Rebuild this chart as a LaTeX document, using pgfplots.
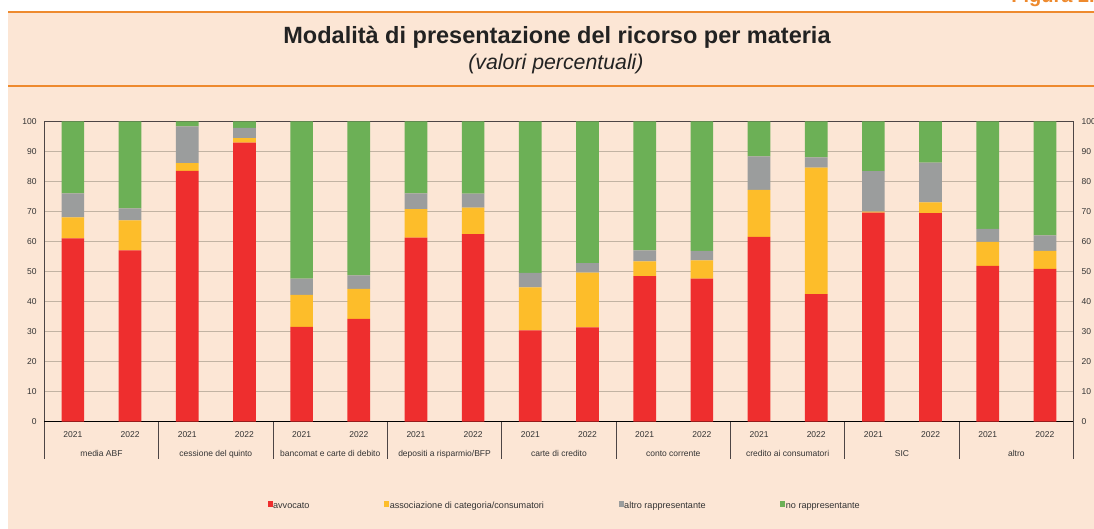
\documentclass[border=0pt]{standalone}
\usepackage{fontspec}
\setmainfont{Liberation Sans}
\usepackage{pgfplots}
\usepackage{pgfplotstable}
\pgfplotsset{compat=1.18}
\definecolor{bgc}{HTML}{FCE6D5}
\definecolor{orc}{HTML}{EE8A2E}
\definecolor{gridc}{HTML}{C2B3A3}
\definecolor{axc}{HTML}{4D4545}
\definecolor{tickc}{HTML}{333333}
\definecolor{titc}{HTML}{222222}
\definecolor{cred}{HTML}{EE2E2E}
\definecolor{cyel}{HTML}{FDBD2A}
\definecolor{cgray}{HTML}{9B9D9D}
\definecolor{cgreen}{HTML}{6CB056}
\pgfplotstableread{
x r y g n
0 61.0 7.0 8.0 24.0
1 57.0 10.0 4.0 29.0
2 83.5 2.6 12.2 1.7
3 92.9 1.5 3.4 2.2
4 31.6 10.6 5.4 52.4
5 34.2 10.0 4.5 51.3
6 61.3 9.5 5.2 24.0
7 62.4 8.9 4.6 24.1
8 30.4 14.3 4.8 50.5
9 31.4 18.2 3.2 47.2
10 48.5 4.9 3.6 43.0
11 47.6 6.1 3.2 43.1
12 61.5 15.7 11.1 11.7
13 42.5 42.1 3.4 12.0
14 69.6 0.3 13.5 16.6
15 69.4 3.6 13.2 13.8
16 51.9 8.0 4.3 35.8
17 50.9 6.0 5.1 38.0
}\mydata
\newcommand{\smallf}{\fontsize{8.5}{10}\selectfont}
\newcommand{\legf}{\fontsize{9.1}{11}\selectfont}
\begin{document}
\begin{tikzpicture}[x=1pt,y=1pt]
\useasboundingbox (0,0) rectangle (1094,529);
\clip (0,0) rectangle (1094,529);
\fill[white] (0,0) rectangle (1094,529);
\fill[bgc] (8,0) rectangle (1094,517.3);
\draw[orc, line width=2.2pt] (8,517.3) -- (1094,517.3);
\draw[orc, line width=1.1pt] (8,443) -- (1094,443);
\node[anchor=base east, text=orc, font=\fontsize{20}{24}\selectfont\bfseries, inner sep=0pt] at (1095,526) {Figura 2.};
\node[anchor=base, text=titc, font=\fontsize{23.5}{28}\selectfont\bfseries, inner sep=0pt] at (557,485.7) {Modalità di presentazione del ricorso per materia};
\node[anchor=base, text=titc, font=\fontsize{21.3}{25}\selectfont\itshape, inner sep=0pt] at (556,459.7) {(valori percentuali)};
\begin{axis}[
  at={(44.3pt,107.3pt)}, anchor=south west,
  width=1029.2pt, height=300.4pt, scale only axis,
  xmin=-0.5, xmax=17.5, ymin=0, ymax=100, enlargelimits=false,
  clip mode=individual,
  ybar stacked, bar width=22.7pt,
  axis line style={draw=axc, line width=0.8pt},
  ymajorgrids, grid style={draw=gridc, line width=0.9pt},
  major tick length=0pt,
  ytick={0,10,...,100},
  xtick={0,...,17},
  xticklabels={2021,2022,2021,2022,2021,2022,2021,2022,2021,2022,2021,2022,2021,2022,2021,2022,2021,2022},
  /pgf/number format/assume math mode=true,
  yticklabel style={font=\smallf, text=tickc, inner sep=0pt, xshift=-7.5pt},
  xticklabel style={font=\smallf, text=tickc, inner sep=0pt, yshift=-9.6pt},
  legend style={at={(0.2167,-0.2796)}, anchor=west, draw=none, fill=none,
    legend columns=4, font=\legf, text=tickc, inner sep=0pt,
    nodes={inner sep=0.6pt},
    /tikz/every even column/.append style={column sep=74pt}},
  legend image code/.code={\fill[#1] (0pt,-0.3pt) rectangle (5pt,5.7pt);},
]
\addplot[fill=cred, draw=none] table[x=x,y=r] {\mydata};
\addplot[fill=cyel, draw=none] table[x=x,y=y] {\mydata};
\addplot[fill=cgray, draw=none] table[x=x,y=g] {\mydata};
\addplot[fill=cgreen, draw=none] table[x=x,y=n] {\mydata};
\legend{avvocato, associazione di categoria/consumatori, altro rappresentante, no rappresentante}
\draw[black, line width=1.2pt] (rel axis cs:0,0) -- (rel axis cs:1,0);
\pgfplotsinvokeforeach{-0.5,1.5,3.5,5.5,7.5,9.5,11.5,13.5,15.5,17.5}{
  \draw[axc, line width=0.8pt] (axis cs:#1,0) -- ([yshift=-37.3pt]axis cs:#1,0);
}
\node[anchor=base, font=\smallf, text=tickc, inner sep=0pt, yshift=-34.6pt] at (axis cs:0.5,0) {media ABF};
\node[anchor=base, font=\smallf, text=tickc, inner sep=0pt, yshift=-34.6pt] at (axis cs:2.5,0) {cessione del quinto};
\node[anchor=base, font=\smallf, text=tickc, inner sep=0pt, yshift=-34.6pt] at (axis cs:4.5,0) {bancomat e carte di debito};
\node[anchor=base, font=\smallf, text=tickc, inner sep=0pt, yshift=-34.6pt] at (axis cs:6.5,0) {depositi a risparmio/BFP};
\node[anchor=base, font=\smallf, text=tickc, inner sep=0pt, yshift=-34.6pt] at (axis cs:8.5,0) {carte di credito};
\node[anchor=base, font=\smallf, text=tickc, inner sep=0pt, yshift=-34.6pt] at (axis cs:10.5,0) {conto corrente};
\node[anchor=base, font=\smallf, text=tickc, inner sep=0pt, yshift=-34.6pt] at (axis cs:12.5,0) {credito ai consumatori};
\node[anchor=base, font=\smallf, text=tickc, inner sep=0pt, yshift=-34.6pt] at (axis cs:14.5,0) {SIC};
\node[anchor=base, font=\smallf, text=tickc, inner sep=0pt, yshift=-34.6pt] at (axis cs:16.5,0) {altro};
\end{axis}
\begin{axis}[
  at={(44.3pt,107.3pt)}, anchor=south west,
  width=1029.2pt, height=300.4pt, scale only axis,
  xmin=-0.5, xmax=17.5, ymin=0, ymax=100, enlargelimits=false,
  hide x axis, axis y line*=right,
  axis line style={draw=axc, line width=0.8pt},
  major tick length=0pt,
  ytick={0,10,...,100},
  /pgf/number format/assume math mode=true,
  yticklabel style={font=\smallf, text=tickc, inner sep=0pt, xshift=8pt},
]
\addplot[draw=none] coordinates {(0,0)};
\end{axis}
\end{tikzpicture}
\end{document}
